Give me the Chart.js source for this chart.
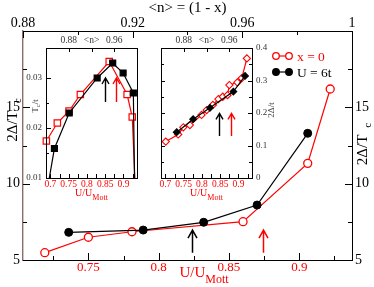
<!DOCTYPE html>
<html>
<head>
<meta charset="utf-8">
<script src="https://cdn.jsdelivr.net/npm/chart.js@4/dist/chart.umd.min.js"></script>
<style>
html, body { margin: 0; padding: 0; background: #fff; }
#wrap { position: relative; width: 374px; height: 287px; }
#wrap canvas { position: absolute; left: 0; top: 0; }
</style>
</head>
<body>
<div id="wrap">
  <canvas id="main" width="374" height="287"></canvas>
  <canvas id="insetTc" width="374" height="287"></canvas>
  <canvas id="insetGap" width="374" height="287"></canvas>
</div>
<script>
// main panel: 2Δ/Tc against U/UMott
const redU = [0.719, 0.75, 0.781, 0.86, 0.906, 0.922];
const redRatio = [5.48, 6.49, 6.85, 7.51, 11.33, 16.2];
const blackU = [0.736, 0.789, 0.832, 0.870, 0.906];
const blackRatio = [6.81, 6.96, 7.47, 8.6, 13.3];
const arrowU = [0.824, 0.8745];          // black, red
const arrowRatio = [5.48, 6.96];         // tail, tip

// left inset: Tc/t
const tcRedU = [0.689, 0.719, 0.751, 0.782, 0.861, 0.910, 0.924, 0.937];
const tcRed = [0.0174, 0.0210, 0.0234, 0.0267, 0.0333, 0.0267, 0.0222, 0];
const tcBlackU = [0.69, 0.711, 0.7515, 0.828, 0.8705, 0.899, 0.927, 0.932];
const tcBlack = [0.007, 0.0159, 0.0230, 0.0300, 0.0330, 0.0310, 0.0270, 0];
const tcArrowU = [0.8485, 0.879];
const tcArrow = [0.0252, 0.0300];

// right inset: 2Δ/t
const gapRedU = [0.701, 0.735, 0.749, 0.767, 0.799, 0.813, 0.83, 0.845, 0.857, 0.870, 0.875, 0.897, 0.909, 0.923];
const gapRed = [0.112, 0.134, 0.156, 0.163, 0.194, 0.209, 0.225, 0.243, 0.250, 0.255, 0.286, 0.294, 0.307, 0.368];
const gapBlackU = [0.731, 0.776, 0.822, 0.886, 0.918];
const gapBlack = [0.141, 0.181, 0.216, 0.266, 0.314];
const gapArrowU = [0.847, 0.879];
const gapArrow = [0.129, 0.199];

const serif = '"Liberation Serif", "Times New Roman", serif';
const RED = '#ff0000';

const isMult = (v, s) => Math.abs(v / s - Math.round(v / s)) < 1e-6;
const near = (a, b) => Math.abs(a - b) < 1e-6;
const fmt = v => String(Math.round(v * 1000) / 1000);
const pts = (xs, ys) => xs.map((x, i) => ({x: x, y: ys[i]}));

// fixed axis box sizes so the plot areas land where they should
function fixBox(size) {
  return function (scale) {
    if (scale.isHorizontal()) scale.height = size; else scale.width = size;
    scale.paddingLeft = scale.paddingRight = scale.paddingTop = scale.paddingBottom = 0;
  };
}

function drawPieces(ctx, pieces, x, y) {
  let total = 0;
  pieces.forEach(p => { ctx.font = p.font; p.w = ctx.measureText(p.t).width; total += p.w + (p.pad || 0); });
  let cx = x - total / 2;
  pieces.forEach(p => {
    cx += p.pad || 0;
    ctx.font = p.font;
    ctx.fillStyle = p.color;
    ctx.fillText(p.t, cx, y + (p.dy || 0));
    cx += p.w;
  });
}

function drawRotated(ctx, pieces, x, y) {
  ctx.save();
  ctx.translate(x, y);
  ctx.rotate(-Math.PI / 2);
  drawPieces(ctx, pieces, 0, 0);
  ctx.restore();
}

// tick marks pointing into the plot, xmgrace style
function tickPlugin(id, list, frame) {
  return {
    id: id,
    afterDatasetsDraw(chart) {
      const ctx = chart.ctx, a = chart.chartArea;
      ctx.save();
      ctx.strokeStyle = '#000';
      ctx.lineWidth = 1;
      list.forEach(d => {
        const sc = chart.scales[d.id];
        sc.ticks.forEach(t => {
          const len = d.major(t.value) ? d.big : d.small;
          const p = Math.round(sc.getPixelForValue(t.value)) + 0.5;
          ctx.beginPath();
          if (d.side === 'bottom') { ctx.moveTo(p, a.bottom); ctx.lineTo(p, a.bottom - len); }
          if (d.side === 'top') { ctx.moveTo(p, a.top); ctx.lineTo(p, a.top + len); }
          if (d.side === 'left') { ctx.moveTo(a.left, p); ctx.lineTo(a.left + len, p); }
          if (d.side === 'right') { ctx.moveTo(a.right, p); ctx.lineTo(a.right - len, p); }
          ctx.stroke();
        });
      });
      if (frame) {
        ctx.strokeRect(Math.round(a.left) + 0.5, Math.round(a.top) + 0.5,
          Math.round(a.right - a.left), Math.round(a.bottom - a.top));
      }
      ctx.restore();
    }
  };
}

function arrowPlugin(id, xs, ys, head, width) {
  const colors = ['#000', RED];
  return {
    id: id,
    afterDatasetsDraw(chart) {
      const ctx = chart.ctx, sx = chart.scales.x, sy = chart.scales.y;
      ctx.save();
      ctx.lineWidth = width;
      xs.forEach((u, i) => {
        const px = Math.round(sx.getPixelForValue(u)) + 0.5;
        const y0 = sy.getPixelForValue(ys[0]), y1 = sy.getPixelForValue(ys[1]);
        ctx.strokeStyle = colors[i];
        ctx.beginPath();
        ctx.moveTo(px, y0); ctx.lineTo(px, y1);
        ctx.moveTo(px - head[0], y1 + head[1]); ctx.lineTo(px, y1); ctx.lineTo(px + head[0], y1 + head[1]);
        ctx.stroke();
      });
      ctx.restore();
    }
  };
}

function textPlugin(id, fn) {
  return { id: id, afterDraw(chart) { const ctx = chart.ctx; ctx.save(); ctx.textBaseline = 'alphabetic'; fn(ctx, chart.chartArea); ctx.restore(); } };
}

const base = {
  responsive: false,
  animation: false,
  events: [],
  plugins: { legend: { display: false }, tooltip: { enabled: false } }
};

function axis(extra) {
  return Object.assign({ type: 'linear', grid: { display: false, drawTicks: false },
    border: { display: true, color: '#000', width: 1 } }, extra);
}

// ---- main chart
new Chart(document.getElementById('main'), {
  type: 'line',
  data: {
    datasets: [
      { data: pts(blackU, blackRatio), borderColor: '#000', borderWidth: 1.2, pointRadius: 4,
        pointBackgroundColor: '#000', pointBorderColor: '#000', pointBorderWidth: 1, tension: 0 },
      { data: pts(redU, redRatio), borderColor: RED, borderWidth: 1.2, pointRadius: 4,
        pointBackgroundColor: '#fff', pointBorderColor: RED, pointBorderWidth: 1.3, tension: 0 }
    ]
  },
  options: Object.assign({}, base, {
    layout: { padding: 0 },
    scales: {
      x: axis({ position: 'bottom', min: 0.7035, max: 0.9375, afterFit: fixBox(27),
        ticks: { stepSize: 0.025, includeBounds: false, autoSkip: false, maxRotation: 0, padding: 0,
          color: RED, font: { family: serif, size: 13 }, callback: v => isMult(v, 0.05) ? fmt(v) : '' } }),
      xTop: axis({ position: 'top', min: 0.88, max: 1, afterFit: fixBox(31),
        ticks: { stepSize: 0.02, autoSkip: false, maxRotation: 0, padding: -1,
          color: '#000', font: { family: serif, size: 14 }, callback: v => isMult(v - 0.88, 0.04) ? fmt(v) : '' } }),
      y: axis({ position: 'left', min: 5, max: 20, afterFit: fixBox(23),
        border: { display: true, color: '#8a6e6e', width: 1.4 },
        ticks: { stepSize: 2.5, autoSkip: false, padding: 3, color: '#000', font: { family: serif, size: 14 },
          callback: v => isMult(v, 5) && v < 20 ? fmt(v) : '' } }),
      yRight: axis({ position: 'right', min: 5, max: 20, afterFit: fixBox(22),
        ticks: { stepSize: 2.5, autoSkip: false, padding: 3, color: '#000', font: { family: serif, size: 14 },
          callback: v => isMult(v, 5) && v < 20 ? fmt(v) : '' } })
    }
  }),
  plugins: [
    tickPlugin('mainTicks', [
      { id: 'x', side: 'bottom', major: v => isMult(v, 0.05), big: 7, small: 4 },
      { id: 'xTop', side: 'top', major: v => isMult(v - 0.88, 0.04), big: 7, small: 4 },
      { id: 'y', side: 'left', major: v => isMult(v, 5), big: 7, small: 4 },
      { id: 'yRight', side: 'right', major: v => isMult(v, 5), big: 7, small: 4 }
    ], false),
    arrowPlugin('mainArrows', arrowU, arrowRatio, [4.5, 8], 1.5),
    textPlugin('mainText', (ctx, a) => {
      drawPieces(ctx, [{ t: '<n> = (1 - x)', font: '15px ' + serif, color: '#000' }], (a.left + a.right) / 2, 12);
      drawPieces(ctx, [{ t: 'U/U', font: '15px ' + serif, color: RED },
                       { t: 'Mott', font: '12px ' + serif, color: RED, dy: 6 }], 204, 277);
      drawRotated(ctx, [{ t: '2Δ/T', font: '15px ' + serif, color: '#000' },
                        { t: 'c', font: '11px ' + serif, color: '#000', dy: 4, pad: 8 }], 17, 120);
      drawRotated(ctx, [{ t: '2Δ/T', font: '15px ' + serif, color: '#000' },
                        { t: 'c', font: '11px ' + serif, color: '#000', dy: 4, pad: 7 }], 367, 144);
      // legend
      const rows = [{ label: 'x = 0', color: RED, fill: '#fff', y: 56 }, { label: 'U = 6t', color: '#000', fill: '#000', y: 72 }];
      rows.forEach(r => {
        ctx.strokeStyle = r.color;
        ctx.lineWidth = 1.2;
        ctx.beginPath(); ctx.moveTo(276, r.y); ctx.lineTo(289, r.y); ctx.stroke();
        [276, 289].forEach(cx => {
          ctx.beginPath(); ctx.arc(cx, r.y, 3.3, 0, Math.PI * 2);
          ctx.fillStyle = r.fill; ctx.fill(); ctx.lineWidth = 1.3; ctx.stroke();
        });
        ctx.font = '13.5px ' + serif;
        ctx.fillStyle = r.color;
        ctx.fillText(r.label, 297, r.y + 4.5);
      });
    })
  ]
});

// ---- inset shared axes
function insetX() {
  return axis({ position: 'bottom', min: 0.688, max: 0.937, afterFit: fixBox(109), border: { display: false },
    ticks: { stepSize: 0.025, includeBounds: false, autoSkip: false, maxRotation: 0, padding: 1,
      color: RED, font: { family: serif, size: 9.5 }, callback: v => isMult(v, 0.05) ? fmt(v) : '' } });
}
function insetTop() {
  return axis({ position: 'top', min: 0.84, max: 1, afterFit: fixBox(48), border: { display: false },
    ticks: { stepSize: 0.04, autoSkip: false, maxRotation: 0, padding: 2, color: '#333',
      font: { family: serif, size: 9.5 },
      callback: v => near(v, 0.88) ? '0.88' : near(v, 0.92) ? '<n>' : near(v, 0.96) ? '0.96' : '' } });
}
function mottLabel(ctx, a) {
  drawPieces(ctx, [{ t: 'U/U', font: '10px ' + serif, color: RED },
                   { t: 'Mott', font: '8px ' + serif, color: RED, dy: 4 }], (a.left + a.right) / 2, 196);
}
const clipBox = { left: 6, right: 6, top: 6, bottom: 0 };

// ---- left inset
new Chart(document.getElementById('insetTc'), {
  type: 'line',
  data: {
    datasets: [
      { data: pts(tcBlackU, tcBlack), borderColor: '#000', borderWidth: 1.2, pointStyle: 'rect',
        pointRadius: tcBlack.map(v => v > 0.01 ? 4.2 : 0), pointBackgroundColor: '#000', pointBorderColor: '#000', clip: clipBox },
      { data: pts(tcRedU, tcRed), borderColor: RED, borderWidth: 1.2, pointStyle: 'rect',
        pointRadius: tcRed.map(v => v > 0.01 ? 4.5 : 0), pointBackgroundColor: '#fff', pointBorderColor: RED,
        pointBorderWidth: 1.2, clip: clipBox }
    ]
  },
  options: Object.assign({}, base, {
    layout: { padding: { left: 0, top: 0, right: 237, bottom: 0 } },
    scales: {
      x: insetX(),
      xTop: insetTop(),
      y: axis({ position: 'left', min: 0.01, max: 0.036, afterFit: fixBox(46), border: { display: false },
        ticks: { stepSize: 0.005, autoSkip: false, padding: 4, color: '#333', font: { family: serif, size: 9 },
          callback: v => isMult(v, 0.01) ? fmt(v) : '' } })
    }
  }),
  plugins: [
    tickPlugin('tcTicks', [
      { id: 'x', side: 'bottom', major: v => isMult(v, 0.05), big: 4, small: 4 },
      { id: 'xTop', side: 'top', major: v => true, big: 4, small: 4 },
      { id: 'y', side: 'left', major: v => isMult(v, 0.01), big: 5, small: 3 }
    ], true),
    arrowPlugin('tcArrows', tcArrowU, tcArrow, [3.5, 6], 1.4),
    textPlugin('tcText', (ctx, a) => {
      mottLabel(ctx, a);
      drawRotated(ctx, [{ t: 'T', font: '9px ' + serif, color: '#444' },
                        { t: 'c', font: '7px ' + serif, color: '#444', dy: 2 },
                        { t: '/t', font: '9px ' + serif, color: '#444' }], 38, 106);
    })
  ]
});

// ---- right inset
new Chart(document.getElementById('insetGap'), {
  type: 'line',
  data: {
    datasets: [
      { data: pts(gapBlackU, gapBlack), borderColor: '#000', borderWidth: 1.2, pointStyle: 'rectRot',
        pointRadius: 3.3, pointBackgroundColor: '#000', pointBorderColor: '#000', clip: clipBox },
      { data: pts(gapRedU, gapRed), borderColor: RED, borderWidth: 1.2, pointStyle: 'rectRot',
        pointRadius: 3.6, pointBackgroundColor: '#fff', pointBorderColor: RED, pointBorderWidth: 1.1, clip: clipBox }
    ]
  },
  options: Object.assign({}, base, {
    layout: { padding: { left: 161, top: 0, right: 0, bottom: 0 } },
    scales: {
      x: insetX(),
      xTop: insetTop(),
      y: axis({ position: 'right', min: 0, max: 0.4, afterFit: fixBox(122), border: { display: false },
        ticks: { stepSize: 0.05, autoSkip: false, padding: 4, color: '#333', font: { family: serif, size: 9 },
          callback: v => isMult(v, 0.1) ? fmt(v) : '' } })
    }
  }),
  plugins: [
    tickPlugin('gapTicks', [
      { id: 'x', side: 'bottom', major: v => isMult(v, 0.05), big: 4, small: 4 },
      { id: 'xTop', side: 'top', major: v => true, big: 4, small: 4 },
      { id: 'y', side: 'right', major: v => isMult(v, 0.1), big: 4, small: 3 },
      { id: 'y', side: 'left', major: v => isMult(v, 0.1), big: 4, small: 3 }
    ], true),
    arrowPlugin('gapArrows', gapArrowU, gapArrow, [3.5, 6], 1.4),
    textPlugin('gapText', (ctx, a) => {
      mottLabel(ctx, a);
      drawRotated(ctx, [{ t: '2Δ/t', font: '9px ' + serif, color: '#444' }], 274, 110);
    })
  ]
});
</script>
</body>
</html>
